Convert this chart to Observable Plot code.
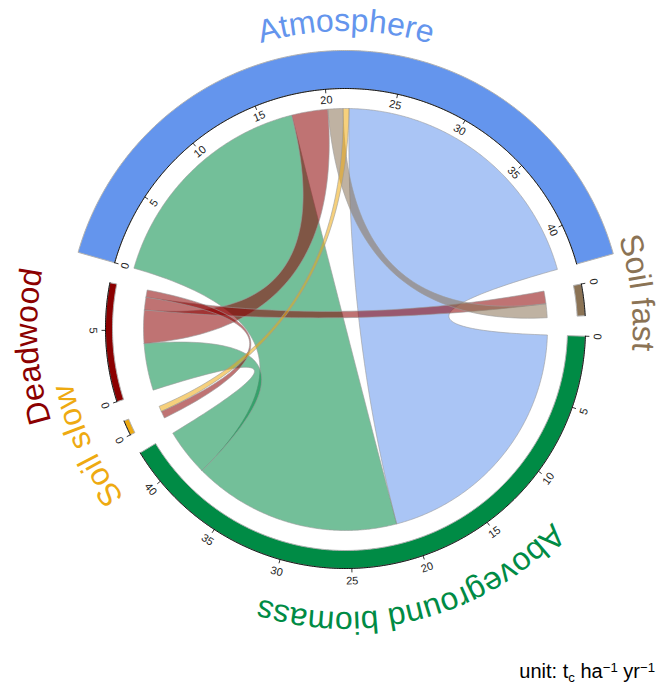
<!DOCTYPE html>
<html><head><meta charset="utf-8">
<script src="https://cdn.jsdelivr.net/npm/d3@7"></script>
<script src="https://cdn.jsdelivr.net/npm/@observablehq/plot@0.6"></script>
<style>
body{margin:0;background:#fff;}
#wrap{position:relative;width:665px;height:684px;overflow:hidden;}
#caption{position:absolute;right:10px;top:661px;font-size:20px;line-height:20px;font-family:"Liberation Sans",Arial,sans-serif;color:#000;white-space:nowrap;}
#caption .sb{position:relative;top:0.28em;font-size:0.66em;}
#caption .sp{position:relative;top:-0.48em;font-size:0.66em;}
</style></head><body>
<div id="wrap"><div id="chart"></div><div id="caption">unit: t<span class="sb">c</span> ha<span class="sp">−1</span> yr<span class="sp">−1</span></div></div>
<script>
// ---- data ----
const sectorOrder = ["Atmosphere", "Soil fast", "Aboveground biomass", "Soil slow", "Deadwood"];
const sectorColor = ["#6495ED", "#8B7355", "#008B45", "#EEAA11", "#8B0000"];
const flowFrom  = ["Atmosphere", "Aboveground biomass", "Aboveground biomass", "Deadwood", "Deadwood", "Deadwood", "Soil fast", "Soil slow"];
const flowTo    = ["Aboveground biomass", "Atmosphere", "Deadwood", "Atmosphere", "Soil fast", "Soil slow", "Atmosphere", "Atmosphere"];
const flowValue = [21.2, 17.3, 3.9, 2.75, 1.05, 0.6, 1.15, 0.45];
const tickStep = 5;

// ---- layout (style) ----
const deg = Math.PI / 180;
const gapDeg = 4.9, startDeg = -74.1;
const baseR = 240;
const bandOffset = {"Atmosphere": 38, "Soil fast": -8, "Aboveground biomass": -18, "Soil slow": -5, "Deadwood": -7};
const chordR = s => s === "Atmosphere" ? 220 : 202;
const labelR = {"Atmosphere": 297, "Soil fast": 288, "Aboveground biomass": 284, "Soil slow": 278, "Deadwood": 308};

const total = d3.sum(flowValue) * 2;
const k = (360 - gapDeg * sectorOrder.length) / total;
const sectorTotal = sectorOrder.map(s => d3.sum(flowValue.filter((v, i) => flowFrom[i] === s || flowTo[i] === s)));
const sStart = [], sEnd = [];
{ let a = startDeg; sectorOrder.forEach((s, i) => { sStart[i] = a; a += sectorTotal[i] * k; sEnd[i] = a; a += gapDeg; }); }

const srcRange = [], tgtRange = [];
sectorOrder.forEach((s, i) => {
  let pos = sStart[i];
  flowValue.forEach((v, j) => { if (flowTo[j] === s) { tgtRange[j] = [pos, pos + v * k]; pos += v * k; } });
  flowValue.forEach((v, j) => { if (flowFrom[j] === s) { srcRange[j] = [pos, pos + v * k]; pos += v * k; } });
});

const P = (r, t) => ({x: r * Math.sin(t * deg), y: r * Math.cos(t * deg)});
function arc(r, t0, t1) {
  const n = Math.max(2, Math.ceil(Math.abs(t1 - t0) / 0.4));
  return d3.range(n + 1).map(i => P(r, t0 + (t1 - t0) * i / n));
}
function bez(p0, p2) {
  const n = 60;
  return d3.range(n + 1).map(i => { const t = i / n; return {x: (1 - t) * (1 - t) * p0.x + t * t * p2.x, y: (1 - t) * (1 - t) * p0.y + t * t * p2.y}; });
}
function ribbon(j) {
  const rs = chordR(flowFrom[j]), rt = chordR(flowTo[j]);
  const [a0, a1] = srcRange[j], [b0, b1] = tgtRange[j];
  const pts = [...arc(rs, a0, a1), ...bez(P(rs, a1), P(rt, b0)), ...arc(rt, b0, b1), ...bez(P(rt, b1), P(rs, a0))];
  pts.push(pts[0]);
  return pts;
}

const marks = [];
// chords
flowValue.forEach((v, j) => {
  const c = sectorColor[sectorOrder.indexOf(flowFrom[j])];
  marks.push(Plot.line(ribbon(j), {x: "x", y: "y", fill: c, fillOpacity: 0.55, stroke: "#9a9a9a", strokeOpacity: 0.75, strokeWidth: 0.8}));
});
// bands
sectorOrder.forEach((s, i) => {
  const r1 = baseR, r2 = baseR + bandOffset[s];
  const pts = [...arc(r1, sStart[i], sEnd[i]), ...arc(r2, sEnd[i], sStart[i])];
  pts.push(pts[0]);
  marks.push(Plot.line(pts, {x: "x", y: "y", fill: sectorColor[i], stroke: "#b0b0b0", strokeWidth: 1}));
  marks.push(Plot.line(arc(baseR, sStart[i], sEnd[i]), {x: "x", y: "y", stroke: "#000", strokeWidth: 0.9}));
});
// ticks
const ticks = [];
sectorOrder.forEach((s, i) => {
  const inward = bandOffset[s] > 0;
  for (let v = 0; v <= sectorTotal[i] + 1e-9; v += tickStep) {
    const t = sStart[i] + v * k;
    const p1 = P(baseR, t), p2 = P(baseR + (inward ? -4 : 4), t), pl = P(inward ? 229 : 252.5, t);
    let rot = t;
    const tn = ((t % 360) + 360) % 360;
    if (!inward && tn > 90 && tn < 270) rot = t - 180;
    ticks.push({x1: p1.x, y1: p1.y, x2: p2.x, y2: p2.y, lx: pl.x, ly: pl.y, label: String(v), rot});
  }
});
marks.push(Plot.link(ticks, {x1: "x1", y1: "y1", x2: "x2", y2: "y2", stroke: "#000", strokeWidth: 0.8}));
marks.push(Plot.text(ticks, {x: "lx", y: "ly", text: "label", rotate: "rot", fontSize: 11, fill: "#222", textAnchor: "middle"}));

const plot = Plot.plot({
  width: 665, height: 650, margin: 0,
  x: {domain: [-345, 320], range: [0, 665], axis: null},
  y: {domain: [-322, 328], range: [650, 0], axis: null},
  style: {fontFamily: "'Liberation Sans', Arial, sans-serif", background: "white", overflow: "visible"},
  marks
});

// curved sector labels
const sx = plot.scale("x"), sy = plot.scale("y");
const cx = sx.apply(0), cy = sy.apply(0);
const svg = d3.select(plot);
const defs = svg.append("defs");
sectorOrder.forEach((s, i) => {
  const mid = (sStart[i] + sEnd[i]) / 2;
  const r = sx.apply(labelR[s]) - cx;
  const t0 = (mid - 90) * deg, t1 = (mid + 90) * deg;
  const p0 = [cx + r * Math.sin(t0), cy - r * Math.cos(t0)];
  const p1 = [cx + r * Math.sin(t1), cy - r * Math.cos(t1)];
  defs.append("path").attr("id", "lab" + i).attr("d", `M${p0[0]},${p0[1]}A${r},${r} 0 0 1 ${p1[0]},${p1[1]}`);
  svg.append("text").attr("font-size", 32).attr("fill", sectorColor[i])
    .attr("font-family", "'Liberation Sans', Arial, sans-serif")
    .append("textPath").attr("href", "#lab" + i).attr("startOffset", "50%").attr("text-anchor", "middle").text(s);
});
document.getElementById("chart").appendChild(plot);
</script>
</body></html>
